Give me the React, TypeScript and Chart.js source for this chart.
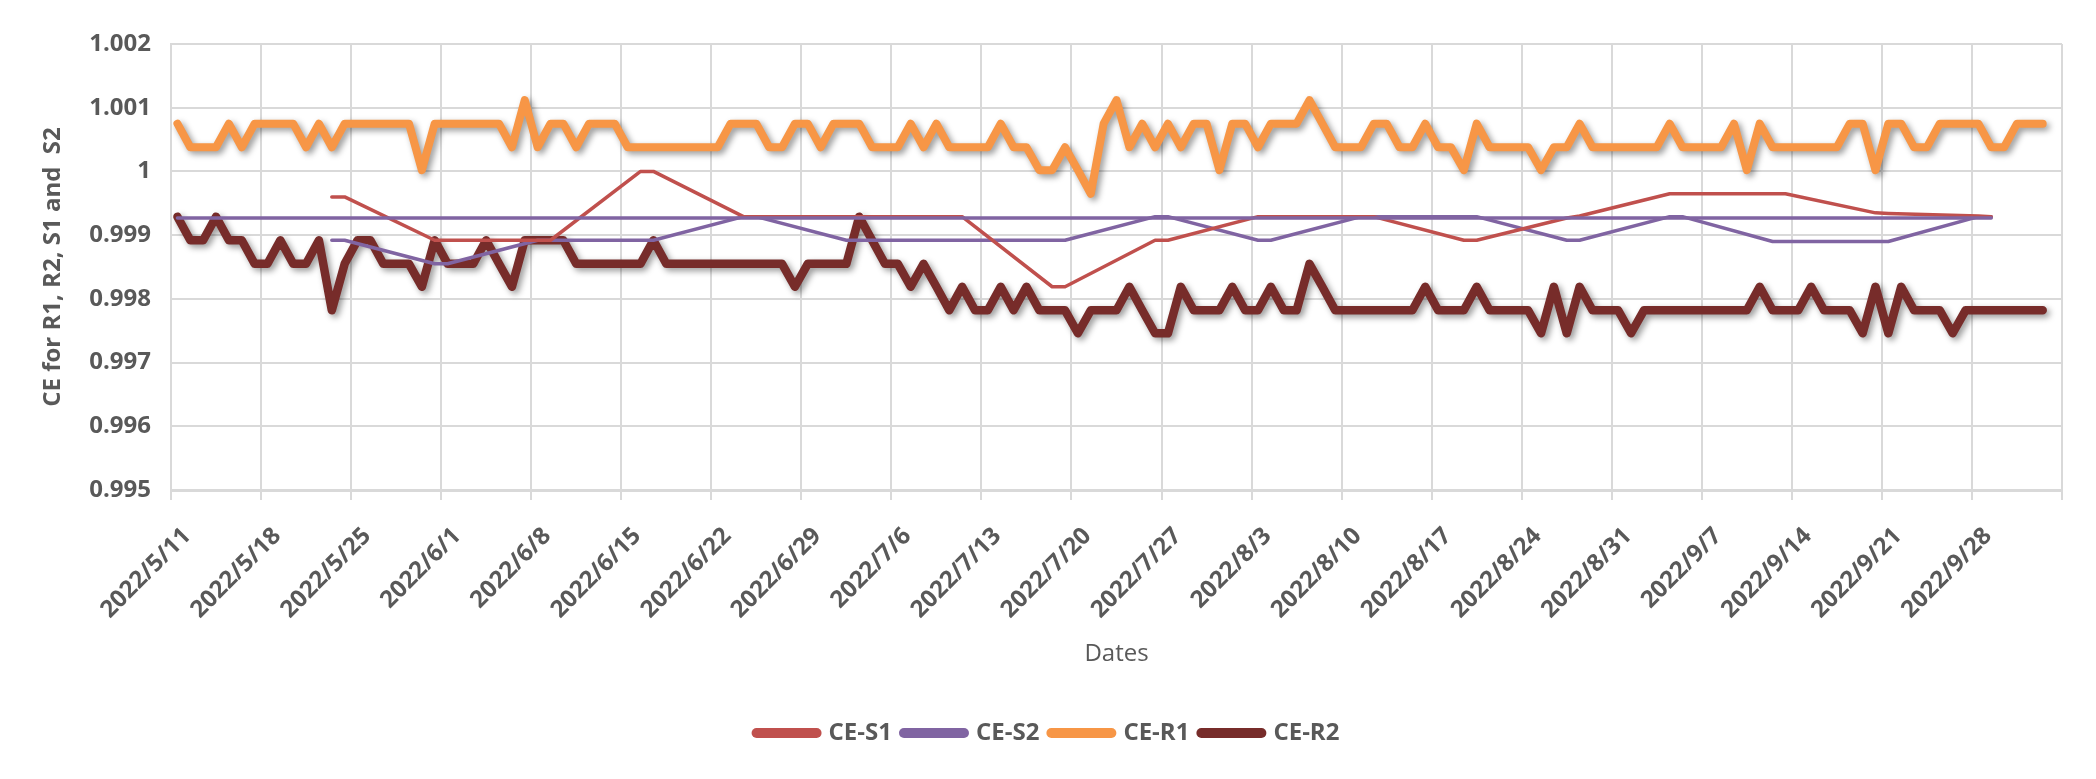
import { useEffect, useRef } from "react"
import { Chart, registerables } from "chart.js"

Chart.register(...registerables)

// day 0 of the axis; each daily value sits in the middle of its day slot
const startDate = "2022/5/11"
const axisDays = 147

const xTickLabels = [
  "2022/5/11", "2022/5/18", "2022/5/25", "2022/6/1", "2022/6/8", "2022/6/15", "2022/6/22",
  "2022/6/29", "2022/7/6", "2022/7/13", "2022/7/20", "2022/7/27", "2022/8/3", "2022/8/10",
  "2022/8/17", "2022/8/24", "2022/8/31", "2022/9/7", "2022/9/14", "2022/9/21", "2022/9/28",
]

// daily values from 2022/5/11 to 2022/10/3 (one row per week)
const r1Values = [
  1.00075, 1.00038, 1.00038, 1.00038, 1.00075, 1.00038, 1.00075,
  1.00075, 1.00075, 1.00075, 1.00038, 1.00075, 1.00038, 1.00075,
  1.00075, 1.00075, 1.00075, 1.00075, 1.00075, 1.00002, 1.00075,
  1.00075, 1.00075, 1.00075, 1.00075, 1.00075, 1.00038, 1.00112,
  1.00038, 1.00075, 1.00075, 1.00038, 1.00075, 1.00075, 1.00075,
  1.00038, 1.00038, 1.00038, 1.00038, 1.00038, 1.00038, 1.00038,
  1.00038, 1.00075, 1.00075, 1.00075, 1.00038, 1.00038, 1.00075,
  1.00075, 1.00038, 1.00075, 1.00075, 1.00075, 1.00038, 1.00038,
  1.00038, 1.00075, 1.00038, 1.00075, 1.00038, 1.00038, 1.00038,
  1.00038, 1.00075, 1.00038, 1.00038, 1.00002, 1.00002, 1.00038,
  1.00002, 0.99965, 1.00075, 1.00112, 1.00038, 1.00075, 1.00038,
  1.00075, 1.00038, 1.00075, 1.00075, 1.00002, 1.00075, 1.00075,
  1.00038, 1.00075, 1.00075, 1.00075, 1.00112, 1.00075, 1.00038,
  1.00038, 1.00038, 1.00075, 1.00075, 1.00038, 1.00038, 1.00075,
  1.00038, 1.00038, 1.00002, 1.00075, 1.00038, 1.00038, 1.00038,
  1.00038, 1.00002, 1.00038, 1.00038, 1.00075, 1.00038, 1.00038,
  1.00038, 1.00038, 1.00038, 1.00038, 1.00075, 1.00038, 1.00038,
  1.00038, 1.00038, 1.00075, 1.00002, 1.00075, 1.00038, 1.00038,
  1.00038, 1.00038, 1.00038, 1.00038, 1.00075, 1.00075, 1.00002,
  1.00075, 1.00075, 1.00038, 1.00038, 1.00075, 1.00075, 1.00075,
  1.00075, 1.00038, 1.00038, 1.00075, 1.00075, 1.00075,
]

const r2Values = [
  0.99929, 0.99892, 0.99892, 0.99929, 0.99892, 0.99892, 0.99855,
  0.99855, 0.99892, 0.99855, 0.99855, 0.99892, 0.99782, 0.99855,
  0.99892, 0.99892, 0.99855, 0.99855, 0.99855, 0.99819, 0.99892,
  0.99855, 0.99855, 0.99855, 0.99892, 0.99855, 0.99819, 0.99892,
  0.99892, 0.99892, 0.99892, 0.99855, 0.99855, 0.99855, 0.99855,
  0.99855, 0.99855, 0.99892, 0.99855, 0.99855, 0.99855, 0.99855,
  0.99855, 0.99855, 0.99855, 0.99855, 0.99855, 0.99855, 0.99819,
  0.99855, 0.99855, 0.99855, 0.99855, 0.99929, 0.99892, 0.99855,
  0.99855, 0.99819, 0.99855, 0.99819, 0.99782, 0.99819, 0.99782,
  0.99782, 0.99819, 0.99782, 0.99819, 0.99782, 0.99782, 0.99782,
  0.99746, 0.99782, 0.99782, 0.99782, 0.99819, 0.99782, 0.99746,
  0.99746, 0.99819, 0.99782, 0.99782, 0.99782, 0.99819, 0.99782,
  0.99782, 0.99819, 0.99782, 0.99782, 0.99855, 0.99819, 0.99782,
  0.99782, 0.99782, 0.99782, 0.99782, 0.99782, 0.99782, 0.99819,
  0.99782, 0.99782, 0.99782, 0.99819, 0.99782, 0.99782, 0.99782,
  0.99782, 0.99746, 0.99819, 0.99746, 0.99819, 0.99782, 0.99782,
  0.99782, 0.99746, 0.99782, 0.99782, 0.99782, 0.99782, 0.99782,
  0.99782, 0.99782, 0.99782, 0.99782, 0.99819, 0.99782, 0.99782,
  0.99782, 0.99819, 0.99782, 0.99782, 0.99782, 0.99746, 0.99819,
  0.99746, 0.99819, 0.99782, 0.99782, 0.99782, 0.99746, 0.99782,
  0.99782, 0.99782, 0.99782, 0.99782, 0.99782, 0.99782,
]

// S1 / S2 are sampled on fewer days
const sDates = [
  "2022/5/23", "2022/5/24", "2022/5/31", "2022/6/1", "2022/6/8", "2022/6/9",
  "2022/6/16", "2022/6/17", "2022/6/24", "2022/6/25", "2022/7/2", "2022/7/3",
  "2022/7/10", "2022/7/11", "2022/7/18", "2022/7/19", "2022/7/26", "2022/7/27",
  "2022/8/3", "2022/8/4", "2022/8/11", "2022/8/12", "2022/8/19", "2022/8/20",
  "2022/8/27", "2022/8/28", "2022/9/4", "2022/9/5", "2022/9/12", "2022/9/13",
  "2022/9/20", "2022/9/21", "2022/9/28", "2022/9/29",
]

const s1Values = [
  0.9996, 0.9996, 0.99892, 0.99892, 0.99892, 0.99892,
  1.0, 1.0, 0.99929, 0.99929, 0.99929, 0.99929,
  0.99929, 0.99929, 0.99819, 0.99819, 0.99892, 0.99892,
  0.99929, 0.99929, 0.99929, 0.99929, 0.99892, 0.99892,
  0.99927, 0.9993, 0.99965, 0.99965, 0.99965, 0.99965,
  0.99935, 0.99934, 0.9993, 0.99929,
]

const s2Values = [
  0.99892, 0.99892, 0.99855, 0.99855, 0.99892, 0.99892,
  0.99892, 0.99892, 0.99929, 0.99929, 0.99892, 0.99892,
  0.99892, 0.99892, 0.99892, 0.99892, 0.99929, 0.99929,
  0.99892, 0.99892, 0.99929, 0.99929, 0.99929, 0.99929,
  0.99892, 0.99892, 0.99929, 0.99929, 0.9989, 0.9989,
  0.9989, 0.9989, 0.99929, 0.99929,
]

// the flat purple reference line drawn across the chart
const s2FlatDates = ["2022/5/11", "2022/9/29"]
const s2FlatValues = [0.99927, 0.99927]

const textGray = "#595959"
const gridGray = "#d9d9d9"
const fontFamily = "'Open Sans', 'Liberation Sans', sans-serif"

const dayOf = (date: string) => {
  const [y, m, d] = date.split("/").map(Number)
  const [y0, m0, d0] = startDate.split("/").map(Number)
  return Math.round((Date.UTC(y, m - 1, d) - Date.UTC(y0, m0 - 1, d0)) / 86400000)
}

const dailyPoints = (values: number[]) => values.map((y, i) => ({ x: i + 0.5, y }))
const datedPoints = (dates: string[], values: number[]) =>
  dates.map((date, i) => ({ x: dayOf(date) + 0.5, y: values[i] }))

// Excel-like drop shadow under the thick R lines
const lineShadow = {
  id: "lineShadow",
  beforeDatasetDraw(chart: any, args: any) {
    if (!chart.data.datasets[args.index].shadow) return
    const ctx = chart.ctx
    ctx.save()
    ctx.shadowColor = "rgba(0, 0, 0, 0.4)"
    ctx.shadowBlur = 6
    ctx.shadowOffsetX = 3
    ctx.shadowOffsetY = 3
  },
  afterDatasetDraw(chart: any, args: any) {
    if (chart.data.datasets[args.index].shadow) chart.ctx.restore()
  },
}

export default function App() {
  const chartRef = useRef<HTMLCanvasElement>(null)
  const chartInstance = useRef<Chart | null>(null)

  useEffect(() => {
    document.body.style.margin = "0"
    if (!chartRef.current) return
    if (chartInstance.current) chartInstance.current.destroy()

    const ctx = chartRef.current.getContext("2d")
    if (!ctx) return

    const common = {
      pointRadius: 0,
      pointHoverRadius: 0,
      tension: 0,
      fill: false,
      borderJoinStyle: "round" as const,
      borderCapStyle: "round" as const,
    }

    chartInstance.current = new Chart(ctx, {
      type: "line",
      data: {
        datasets: [
          { ...common, label: "CE-S1", data: datedPoints(sDates, s1Values), borderColor: "#C0504D", backgroundColor: "#C0504D", borderWidth: 3.5, order: 1 },
          { ...common, label: "CE-S2", data: datedPoints(sDates, s2Values), borderColor: "#8064A2", backgroundColor: "#8064A2", borderWidth: 3.5, order: 2 },
          { ...common, label: "CE-R1", data: dailyPoints(r1Values), borderColor: "#F79646", backgroundColor: "#F79646", borderWidth: 8, order: 3, shadow: true },
          { ...common, label: "CE-R2", data: dailyPoints(r2Values), borderColor: "#772C2A", backgroundColor: "#772C2A", borderWidth: 8.5, order: 4, shadow: true },
          { ...common, label: "", data: datedPoints(s2FlatDates, s2FlatValues), borderColor: "#8064A2", backgroundColor: "#8064A2", borderWidth: 3.5, order: 0 },
        ] as any,
      },
      options: {
        animation: false,
        responsive: true,
        maintainAspectRatio: false,
        layout: { padding: { top: 44, right: 0, bottom: 24, left: 0 } },
        plugins: {
          tooltip: { enabled: false },
          legend: {
            position: "bottom",
            labels: {
              usePointStyle: true,
              pointStyle: "line",
              pointStyleWidth: 60,
              padding: 12,
              color: textGray,
              font: { family: fontFamily, size: 24, weight: "bold" },
              generateLabels: (chart: any) =>
                Chart.defaults.plugins.legend.labels
                  .generateLabels(chart)
                  .filter((item: any) => item.text)
                  .map((item: any) => ({ ...item, lineWidth: 10, lineCap: "round", pointStyle: "line" })),
            },
          },
        },
        scales: {
          x: {
            type: "linear",
            min: 0,
            max: axisDays,
            afterFit: (scale: any) => {
              scale.height = 219
              scale.paddingRight = 34
            },
            ticks: {
              stepSize: 7,
              autoSkip: false,
              minRotation: 45,
              maxRotation: 45,
              padding: 22,
              labelOffset: 16,
              color: textGray,
              font: { family: fontFamily, size: 24, weight: "bold" },
              callback: (value: any) => xTickLabels[Math.round(Number(value) / 7)] ?? "",
            },
            grid: { color: gridGray, lineWidth: 2, tickLength: 10, tickColor: gridGray },
            border: { color: gridGray, width: 3 },
            title: {
              display: true,
              text: "Dates",
              color: textGray,
              padding: { top: 4, bottom: 40 },
              font: { family: fontFamily, size: 24 },
            },
          },
          y: {
            min: 0.995,
            max: 1.002,
            afterFit: (scale: any) => {
              scale.width = 171
            },
            ticks: {
              stepSize: 0.001,
              padding: 20,
              color: textGray,
              font: { family: fontFamily, size: 24, weight: "bold" },
              callback: (value: any) => String(parseFloat(Number(value).toFixed(3))),
            },
            grid: { color: gridGray, lineWidth: 2, drawTicks: false },
            border: { color: gridGray, width: 2 },
            title: {
              display: true,
              text: "CE for R1, R2, S1 and  S2",
              color: textGray,
              padding: { top: 39, bottom: 0 },
              font: { family: fontFamily, size: 24, weight: "bold" },
            },
          },
        },
      },
      plugins: [lineShadow],
    })

    return () => {
      if (chartInstance.current) {
        chartInstance.current.destroy()
        chartInstance.current = null
      }
    }
  }, [])

  return (
    <div style={{ width: 2096, height: 779, background: "#fff" }}>
      <canvas ref={chartRef} />
    </div>
  )
}
